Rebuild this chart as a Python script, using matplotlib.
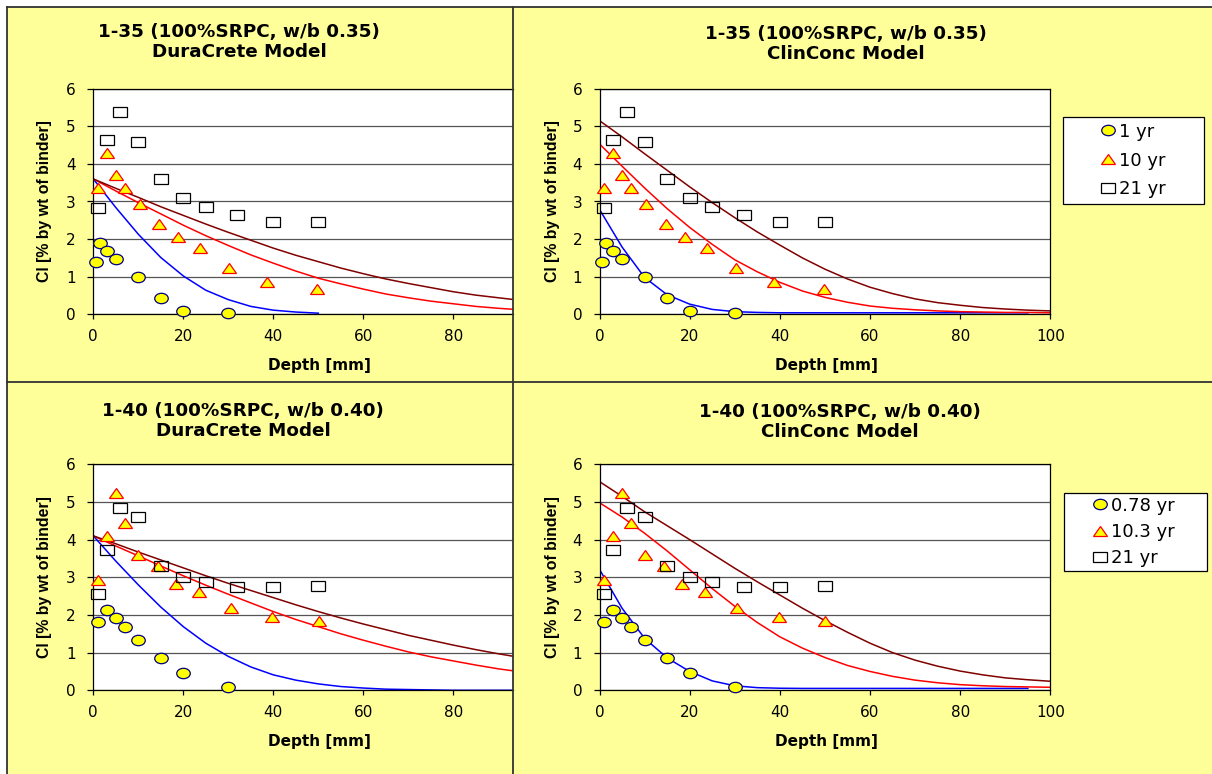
import matplotlib.pyplot as plt
from matplotlib.markers import MarkerStyle
from matplotlib.patches import Rectangle
from matplotlib.lines import Line2D
from matplotlib.transforms import Affine2D

W, H = 1212, 774
YELLOW = '#FFFF99'

# measured chloride profiles, depth [mm] vs Cl [% by wt of binder]
d35_1yr = [0.5, 1.5, 3, 5, 10, 15, 20, 30]
cl35_1yr = [1.38, 1.90, 1.69, 1.47, 0.98, 0.44, 0.09, 0.04]
d35_10yr = [1, 3, 5, 7, 10.3, 14.7, 18.9, 23.8, 30.2, 38.6, 49.7]
cl35_10yr = [3.37, 4.28, 3.71, 3.35, 2.93, 2.40, 2.05, 1.76, 1.24, 0.87, 0.68]
d35_21yr = [1, 3, 6, 10, 15, 20, 25, 32, 40, 50]
cl35_21yr = [2.82, 4.64, 5.37, 4.57, 3.60, 3.10, 2.85, 2.65, 2.46, 2.46]

d40_078yr = [1, 3, 5, 7, 10, 15, 20, 30]
cl40_078yr = [1.82, 2.13, 1.93, 1.69, 1.34, 0.87, 0.45, 0.08]
d40_103yr = [1, 3, 5, 7, 10, 14.4, 18.4, 23.4, 30.5, 39.8, 50.1]
cl40_103yr = [2.93, 4.10, 5.23, 4.43, 3.58, 3.30, 2.82, 2.62, 2.18, 1.94, 1.84]
d40_21yr = [1, 3, 6, 10, 15, 20, 25, 32, 40, 50]
cl40_21yr = [2.55, 3.72, 4.83, 4.61, 3.31, 3.00, 2.88, 2.75, 2.73, 2.78]

# model predictions, sampled every 5 mm
depth_50 = [0, 5, 10, 15, 20, 25, 30, 35, 40, 45, 50]
depth_95 = [0, 5, 10, 15, 20, 25, 30, 35, 40, 45, 50,
            55, 60, 65, 70, 75, 80, 85, 90, 95]
depth_100 = depth_95 + [100]

dc35_1yr = [3.60, 2.84, 2.13, 1.51, 1.02, 0.64, 0.39, 0.21, 0.11, 0.06, 0.03]
dc35_10yr = [3.60, 3.28, 2.97, 2.67, 2.37, 2.09, 1.83, 1.58, 1.36, 1.15,
             0.96, 0.81, 0.67, 0.54, 0.44, 0.35, 0.28, 0.21, 0.16, 0.12]
dc35_21yr = [3.60, 3.35, 3.11, 2.86, 2.63, 2.40, 2.18, 1.97, 1.76, 1.57,
             1.40, 1.23, 1.08, 0.94, 0.82, 0.71, 0.60, 0.51, 0.44, 0.37]

cc35_1yr = [2.79, 1.79, 0.98, 0.52, 0.27, 0.13, 0.07, 0.05, 0.04, 0.04,
            0.04, 0.04, 0.04, 0.04, 0.04, 0.04, 0.04, 0.04, 0.04, 0.04]
cc35_10yr = [4.53, 3.94, 3.36, 2.81, 2.31, 1.86, 1.45, 1.13, 0.85, 0.62,
             0.45, 0.32, 0.22, 0.16, 0.12, 0.09, 0.07, 0.06, 0.05, 0.05, 0.04]
cc35_21yr = [5.15, 4.72, 4.27, 3.83, 3.39, 2.97, 2.57, 2.19, 1.84, 1.50,
             1.20, 0.94, 0.72, 0.55, 0.41, 0.31, 0.24, 0.18, 0.14, 0.11, 0.09]

dc40_078yr = [4.10, 3.43, 2.80, 2.21, 1.69, 1.25, 0.90, 0.62, 0.41, 0.27,
              0.17, 0.10, 0.06, 0.03, 0.02, 0.01, 0.0, 0.0, 0.0, 0.0]
dc40_103yr = [4.10, 3.83, 3.57, 3.30, 3.04, 2.79, 2.55, 2.32, 2.09, 1.88,
              1.69, 1.50, 1.33, 1.17, 1.02, 0.89, 0.78, 0.67, 0.57, 0.49]
dc40_21yr = [4.10, 3.89, 3.67, 3.46, 3.25, 3.04, 2.84, 2.65, 2.46, 2.27,
             2.09, 1.92, 1.76, 1.61, 1.46, 1.33, 1.20, 1.08, 0.97, 0.87]

cc40_078yr = [3.21, 2.18, 1.38, 0.86, 0.50, 0.25, 0.12, 0.07, 0.055, 0.05,
              0.05, 0.05, 0.05, 0.05, 0.05, 0.05, 0.05, 0.05, 0.05, 0.05]
cc40_103yr = [4.98, 4.60, 4.17, 3.70, 3.20, 2.70, 2.23, 1.80, 1.42, 1.12,
              0.87, 0.66, 0.50, 0.37, 0.27, 0.20, 0.15, 0.12, 0.10, 0.09, 0.08]
cc40_21yr = [5.54, 5.15, 4.74, 4.37, 4.00, 3.62, 3.24, 2.88, 2.53, 2.18,
             1.85, 1.54, 1.25, 1.00, 0.80, 0.64, 0.51, 0.41, 0.33, 0.28, 0.24]

labels_35 = ['1 yr', '10 yr', '21 yr']
labels_40 = ['0.78 yr', '10.3 yr', '21 yr']

# markers are a bit wider than tall
WIDE = Affine2D().scale(1.3, 1.0)
CIRCLE = dict(marker=MarkerStyle('o', transform=WIDE), mfc='#FFFF00', mec='#000080')
TRIANGLE = dict(marker=MarkerStyle('^', transform=WIDE), mfc='#FFFF00', mec='#FF0000')
SQUARE = dict(marker=MarkerStyle('s', transform=WIDE), mfc='none', mec='black')
LINE_COLORS = ['#0000FF', '#FF0000', '#800000']


def fx(px):
    return px / W


def fy(py):
    return 1 - py / H


def panel(fig, box, xmax, title, title_x, title_y, xlabel_x, ylabel_x,
          profiles, curves, right_spine=True):
    left, top, right, bottom = box
    ax = fig.add_axes([fx(left), fy(bottom), (right - left) / W, (bottom - top) / H])
    ax.set_facecolor('white')

    for (d, c), color in zip(curves, LINE_COLORS):
        ax.plot(d, c, color=color, lw=1.1, zorder=2)

    handles = []
    for (d, c), style in zip(profiles, [CIRCLE, TRIANGLE, SQUARE]):
        h, = ax.plot(d, c, ls='none', ms=7.5, mew=0.9, clip_on=False,
                     zorder=4, **style)
        handles.append(h)

    ax.set_xlim(0, xmax)
    ax.set_ylim(0, 6)
    ax.set_xticks([t for t in [0, 20, 40, 60, 80, 100] if t <= xmax])
    ax.set_yticks(range(7))
    ax.yaxis.grid(True, color='#555555', lw=0.9)
    ax.set_axisbelow(True)
    for s in ax.spines.values():
        s.set_color('black')
        s.set_linewidth(0.9)
    ax.spines['right'].set_visible(right_spine)
    ax.tick_params(axis='y', direction='out', length=4.5, width=0.9, pad=8,
                   labelsize=11)
    ax.tick_params(axis='x', direction='out', length=3.5, width=0.9, pad=7,
                   labelsize=11)

    w_px = right - left
    h_px = bottom - top
    ax.set_xlabel('Depth [mm]', fontsize=11, fontweight='bold', va='center')
    ax.xaxis.set_label_coords((xlabel_x - left) / w_px, -51.4 / h_px)
    ax.set_ylabel('Cl [% by wt of binder]', fontsize=11.4, fontweight='bold',
                  family='Liberation Sans', va='center')
    ax.yaxis.set_label_coords((ylabel_x - left) / w_px, 0.5)

    line1, line2 = title
    fig.text(fx(title_x), fy(title_y), line1, ha='center', va='center',
             fontsize=13.2, fontweight='bold')
    fig.text(fx(title_x), fy(title_y + 20), line2, ha='center', va='center',
             fontsize=13.2, fontweight='bold')
    return ax, handles


def add_legend(fig, ax, handles, labels, x0, x1, top, pad, hlen, hpad, spacing):
    leg = ax.legend(handles, labels, loc='upper left',
                    bbox_to_anchor=(fx(x0), fy(top), (x1 - x0) / W, 0),
                    bbox_transform=fig.transFigure, mode='expand',
                    borderaxespad=0, borderpad=pad, labelspacing=spacing,
                    handlelength=hlen, handletextpad=hpad, numpoints=1,
                    fancybox=False, framealpha=1, edgecolor='black',
                    fontsize=13)
    leg.get_frame().set_linewidth(0.9)


def main():
    fig = plt.figure(figsize=(W / 100, H / 100), dpi=100, facecolor='white')
    fig.add_artist(Rectangle((fx(6.7), 0), 1, fy(6.7), transform=fig.transFigure,
                             facecolor=YELLOW, edgecolor='none', zorder=-10))

    left_w = (513.3 - 93.3) / 4.5

    panel(fig, (93.3, 88.7, 513.3, 314.3), left_w,
          ('1-35 (100%SRPC, w/b 0.35)', 'DuraCrete Model'), 239, 32, 319.5, 45,
          [(d35_1yr, cl35_1yr), (d35_10yr, cl35_10yr), (d35_21yr, cl35_21yr)],
          [(depth_50, dc35_1yr), (depth_95, dc35_10yr), (depth_95, dc35_21yr)],
          right_spine=False)

    ax, handles = panel(
        fig, (599.5, 88.7, 1050.4, 314.3), 100,
        ('1-35 (100%SRPC, w/b 0.35)', 'ClinConc Model'), 845.8, 34, 826, 552.5,
        [(d35_1yr, cl35_1yr), (d35_10yr, cl35_10yr), (d35_21yr, cl35_21yr)],
        [(depth_95, cc35_1yr), (depth_100, cc35_10yr), (depth_100, cc35_21yr)])
    add_legend(fig, ax, handles, labels_35, 1062.9, 1204, 117.3,
               0.3, 4.36, -1.56, 0.6)

    panel(fig, (93.3, 464.3, 513.3, 690.3), left_w,
          ('1-40 (100%SRPC, w/b 0.40)', 'DuraCrete Model'), 243, 410.7, 319.5, 45,
          [(d40_078yr, cl40_078yr), (d40_103yr, cl40_103yr), (d40_21yr, cl40_21yr)],
          [(depth_95, dc40_078yr), (depth_95, dc40_103yr), (depth_95, dc40_21yr)],
          right_spine=False)

    ax, handles = panel(
        fig, (599.5, 464.3, 1050.4, 690.3), 100,
        ('1-40 (100%SRPC, w/b 0.40)', 'ClinConc Model'), 840, 411.7, 826, 552.5,
        [(d40_078yr, cl40_078yr), (d40_103yr, cl40_103yr), (d40_21yr, cl40_21yr)],
        [(depth_95, cc40_078yr), (depth_100, cc40_103yr), (depth_100, cc40_21yr)])
    add_legend(fig, ax, handles, labels_40, 1064.3, 1206.6, 492.7,
               0.216, 3.53, -1.15, 0.465)

    # chart frames and dividers
    frame = dict(color='#333333', lw=1.3, transform=fig.transFigure, zorder=10)
    fig.add_artist(Line2D([fx(6.7), 1], [fy(6.7), fy(6.7)], **frame))
    fig.add_artist(Line2D([fx(6.7), fx(6.7)], [fy(6.7), 0], **frame))
    fig.add_artist(Line2D([fx(513.3), fx(513.3)], [fy(6.7), 0], **frame))
    fig.add_artist(Line2D([fx(6.7), 1], [fy(381.7), fy(381.7)], **frame))

    fig.savefig('out.png', dpi=100, facecolor='white')


if __name__ == '__main__':
    main()
